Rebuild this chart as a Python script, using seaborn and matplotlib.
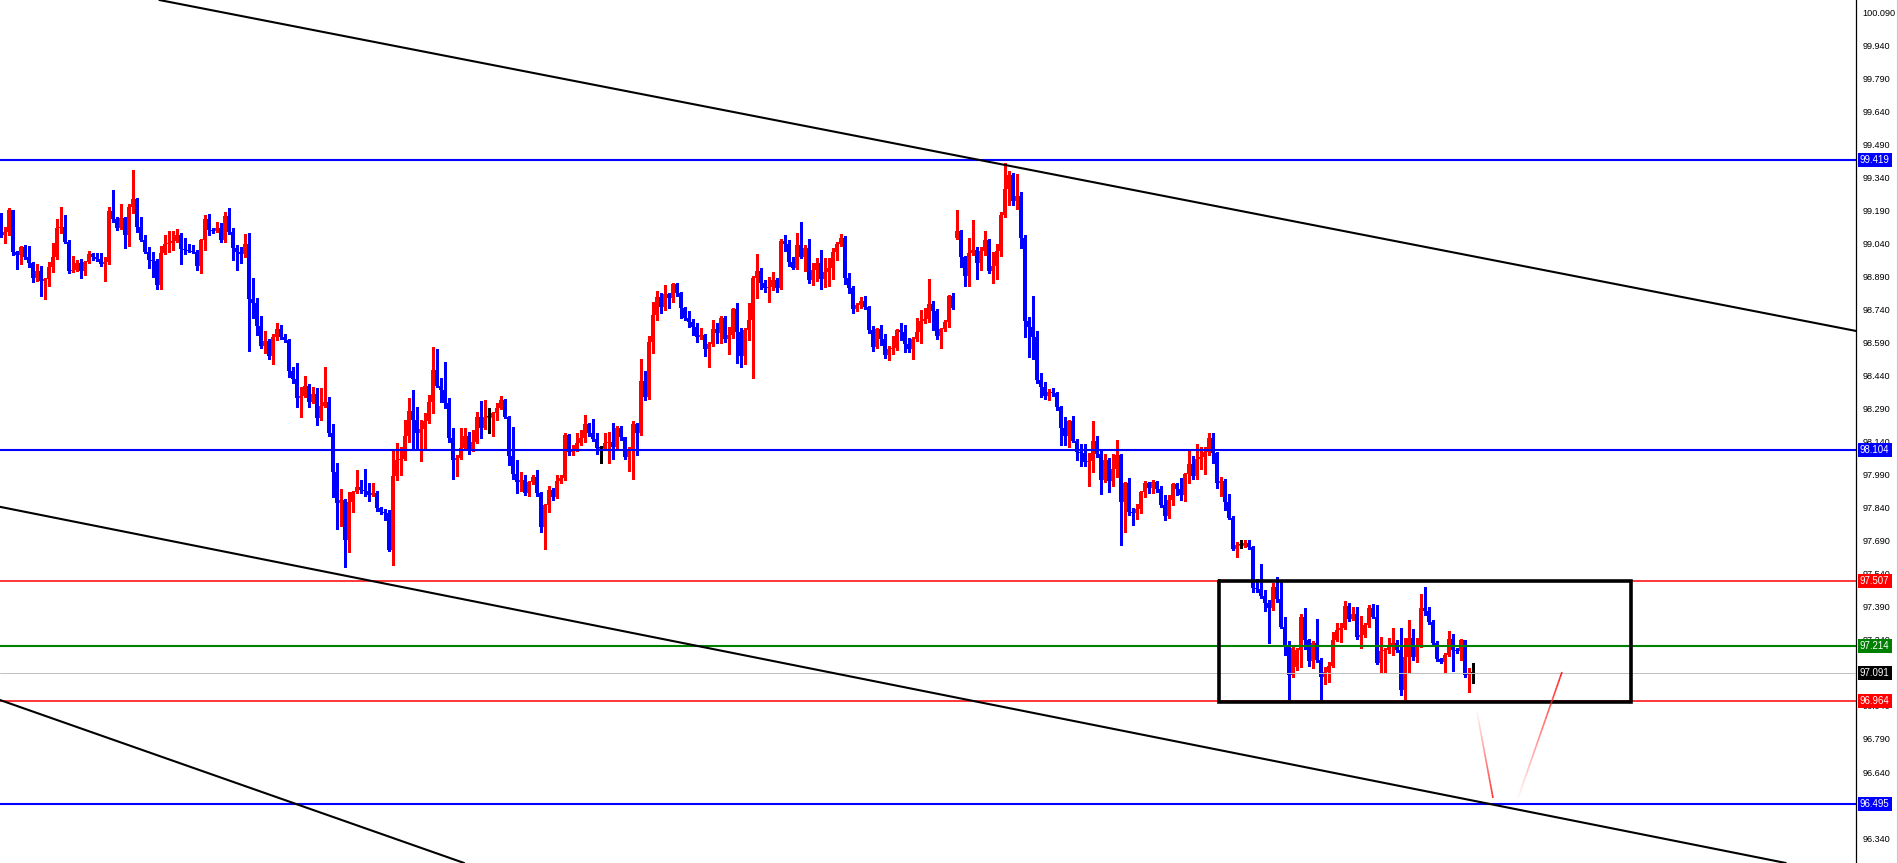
import numpy as np
import pandas as pd
import matplotlib
matplotlib.use("Agg")
import matplotlib.pyplot as plt
import seaborn as sns
from matplotlib.collections import LineCollection
from matplotlib.lines import Line2D

# ---------------------------
# 1. Candle data
# ---------------------------
closes = [
    99.079, 99.092, 99.192, 99.002, 98.988, 99.024, 98.979, 98.952, 98.884, 98.915,
    98.870, 98.879, 98.934, 98.979, 99.111, 99.115, 99.047, 98.915, 98.920, 98.952,
    98.915, 98.956, 98.993, 98.979, 98.970, 98.947, 98.956, 99.188, 99.151, 99.111,
    99.156, 99.079, 99.206, 99.242, 99.115, 99.056, 99.002, 98.965, 98.961, 98.852,
    98.997, 99.038, 99.042, 99.052, 99.079, 99.015, 99.011, 99.006, 99.002, 98.938,
    99.056, 99.151, 99.101, 99.097, 99.111, 99.056, 99.165, 99.092, 99.020, 99.002,
    98.993, 99.038, 98.788, 98.770, 98.666, 98.575, 98.597, 98.529, 98.616, 98.652,
    98.616, 98.602, 98.461, 98.425, 98.339, 98.348, 98.393, 98.320, 98.357, 98.248,
    98.302, 98.320, 98.180, 98.002, 97.862, 97.875, 97.694, 97.866, 97.912, 97.934,
    97.921, 97.916, 97.898, 97.907, 97.839, 97.821, 97.816, 97.648, 97.984, 98.057,
    98.061, 98.166, 98.280, 98.239, 98.180, 98.198, 98.234, 98.320, 98.466, 98.393,
    98.375, 98.316, 98.157, 98.057, 98.066, 98.111, 98.166, 98.102, 98.139, 98.252,
    98.202, 98.252, 98.252, 98.270, 98.293, 98.330, 98.252, 98.075, 97.993, 97.957,
    97.966, 97.907, 97.957, 97.980, 97.907, 97.753, 97.853, 97.921, 97.889, 97.962,
    97.975, 98.171, 98.093, 98.107, 98.134, 98.157, 98.220, 98.180, 98.152, 98.111,
    98.111, 98.134, 98.139, 98.116, 98.202, 98.161, 98.071, 98.098, 98.220, 98.180,
    98.416, 98.343, 98.593, 98.716, 98.797, 98.752, 98.811, 98.793, 98.856, 98.815,
    98.747, 98.702, 98.684, 98.661, 98.616, 98.625, 98.561, 98.584, 98.652, 98.634,
    98.702, 98.607, 98.625, 98.743, 98.638, 98.529, 98.647, 98.693, 98.884, 98.915,
    98.861, 98.838, 98.843, 98.874, 98.838, 99.052, 99.038, 98.956, 98.929, 99.033,
    98.979, 99.020, 98.874, 98.920, 98.952, 98.879, 98.911, 98.929, 99.002, 99.038,
    99.065, 98.884, 98.838, 98.743, 98.761, 98.779, 98.752, 98.647, 98.570, 98.652,
    98.607, 98.534, 98.561, 98.566, 98.647, 98.638, 98.584, 98.561, 98.607, 98.638,
    98.688, 98.698, 98.766, 98.734, 98.620, 98.652, 98.684, 98.802, 98.747, 99.097,
    98.979, 98.893, 98.997, 99.011, 98.952, 99.006, 99.056, 98.915, 98.938, 99.006,
    99.170, 99.288, 99.351, 99.233, 99.256, 99.065, 98.688, 98.661, 98.616, 98.420,
    98.389, 98.348, 98.366, 98.361, 98.298, 98.202, 98.166, 98.234, 98.143, 98.093,
    98.089, 98.048, 98.053, 98.143, 98.084, 97.966, 98.057, 97.962, 98.016, 98.080,
    97.866, 97.953, 97.821, 97.816, 97.834, 97.912, 97.953, 97.930, 97.957, 97.925,
    97.853, 97.803, 97.875, 97.948, 97.925, 97.898, 97.994, 98.039, 97.984, 98.061,
    98.071, 98.093, 98.157, 98.089, 97.953, 97.962, 97.866, 97.794, 97.653, 97.671,
    97.671, 97.680, 97.662, 97.476, 97.471, 97.439, 97.408, 97.385, 97.480, 97.426,
    97.299, 97.208, 97.081, 97.203, 97.194, 97.344, 97.240, 97.145, 97.226, 97.149,
    97.072, 97.094, 97.122, 97.240, 97.285, 97.294, 97.394, 97.335, 97.358, 97.253,
    97.262, 97.308, 97.385, 97.344, 97.135, 97.190, 97.194, 97.217, 97.226, 97.194,
    97.012, 97.163, 97.249, 97.163, 97.213, 97.385, 97.371, 97.321, 97.226, 97.154,
    97.140, 97.172, 97.244, 97.194, 97.190, 97.240, 97.081, 97.090, 97.091,
]

highs = [
    99.179, 99.115, 99.201, 99.192, 99.006, 99.029, 99.033, 99.029, 98.956, 98.947,
    98.938, 98.884, 98.956, 99.042, 99.151, 99.206, 99.170, 99.056, 98.983, 98.965,
    98.970, 98.961, 99.006, 98.997, 98.997, 98.997, 98.979, 99.206, 99.283, 99.160,
    99.220, 99.160, 99.220, 99.374, 99.247, 99.160, 99.079, 99.024, 99.002, 98.970,
    99.029, 99.079, 99.097, 99.097, 99.106, 99.088, 99.065, 99.038, 99.033, 99.011,
    99.061, 99.170, 99.174, 99.111, 99.138, 99.133, 99.183, 99.201, 99.111, 99.033,
    99.024, 99.083, 99.088, 98.884, 98.793, 98.711, 98.643, 98.607, 98.630, 98.679,
    98.670, 98.630, 98.607, 98.479, 98.498, 98.388, 98.439, 98.402, 98.388, 98.384,
    98.384, 98.479, 98.343, 98.220, 98.043, 97.925, 97.880, 97.912, 97.915, 98.012,
    97.966, 98.016, 97.953, 97.953, 97.916, 97.844, 97.834, 97.830, 98.098, 98.134,
    98.116, 98.239, 98.339, 98.375, 98.298, 98.239, 98.270, 98.352, 98.570, 98.561,
    98.429, 98.502, 98.339, 98.202, 98.080, 98.202, 98.202, 98.184, 98.193, 98.275,
    98.325, 98.330, 98.293, 98.275, 98.316, 98.348, 98.334, 98.257, 98.207, 98.057,
    98.002, 97.989, 97.960, 97.989, 98.012, 97.912, 97.856, 97.939, 97.930, 97.989,
    97.989, 98.180, 98.175, 98.125, 98.180, 98.193, 98.261, 98.225, 98.243, 98.180,
    98.120, 98.180, 98.184, 98.225, 98.211, 98.211, 98.161, 98.116, 98.234, 98.224,
    98.516, 98.461, 98.620, 98.775, 98.825, 98.815, 98.852, 98.815, 98.861, 98.861,
    98.820, 98.751, 98.734, 98.698, 98.679, 98.657, 98.629, 98.593, 98.693, 98.679,
    98.711, 98.711, 98.661, 98.747, 98.770, 98.657, 98.657, 98.770, 98.893, 98.993,
    98.929, 98.874, 98.888, 98.911, 98.884, 99.061, 99.079, 99.056, 98.979, 99.088,
    99.138, 99.033, 99.061, 98.952, 98.974, 99.011, 98.974, 98.974, 99.020, 99.047,
    99.083, 99.074, 98.906, 98.847, 98.770, 98.797, 98.802, 98.756, 98.666, 98.655,
    98.670, 98.630, 98.575, 98.620, 98.650, 98.679, 98.670, 98.611, 98.616, 98.702,
    98.738, 98.747, 98.879, 98.779, 98.743, 98.657, 98.693, 98.806, 98.815, 99.192,
    99.101, 98.983, 99.065, 99.147, 99.024, 99.024, 99.097, 99.060, 99.002, 99.038,
    99.183, 99.406, 99.369, 99.360, 99.356, 99.274, 99.079, 98.707, 98.802, 98.643,
    98.452, 98.411, 98.380, 98.384, 98.366, 98.302, 98.252, 98.237, 98.257, 98.152,
    98.130, 98.130, 98.089, 98.234, 98.166, 98.098, 98.084, 98.066, 98.084, 98.148,
    98.085, 97.956, 97.975, 97.839, 97.857, 97.916, 97.962, 97.957, 97.966, 97.962,
    97.939, 97.898, 97.898, 97.953, 97.952, 97.975, 97.998, 98.098, 98.075, 98.130,
    98.116, 98.116, 98.180, 98.180, 98.093, 97.980, 97.971, 97.903, 97.803, 97.685,
    97.694, 97.694, 97.694, 97.666, 97.517, 97.585, 97.467, 97.421, 97.499, 97.526,
    97.512, 97.344, 97.235, 97.213, 97.203, 97.358, 97.385, 97.244, 97.235, 97.335,
    97.158, 97.117, 97.140, 97.276, 97.317, 97.317, 97.417, 97.408, 97.390, 97.390,
    97.349, 97.317, 97.399, 97.403, 97.399, 97.253, 97.203, 97.249, 97.294, 97.240,
    97.294, 97.249, 97.330, 97.290, 97.249, 97.449, 97.480, 97.390, 97.330, 97.235,
    97.158, 97.181, 97.281, 97.267, 97.203, 97.244, 97.231, 97.113, 97.135,
]

lows = [
    99.070, 99.042, 99.079, 98.988, 98.924, 98.947, 98.970, 98.934, 98.865, 98.870,
    98.802, 98.788, 98.847, 98.911, 98.970, 99.088, 99.042, 98.906, 98.911, 98.915,
    98.884, 98.897, 98.952, 98.965, 98.961, 98.938, 98.870, 98.947, 99.138, 99.101,
    99.106, 99.020, 99.029, 99.179, 99.092, 99.052, 98.997, 98.929, 98.888, 98.834,
    98.834, 98.993, 99.002, 99.011, 99.047, 98.947, 98.993, 99.002, 98.997, 98.920,
    98.906, 99.011, 99.079, 99.088, 99.092, 99.047, 99.047, 99.083, 98.965, 98.920,
    98.952, 98.979, 98.552, 98.702, 98.625, 98.566, 98.543, 98.516, 98.493, 98.602,
    98.607, 98.593, 98.434, 98.407, 98.298, 98.252, 98.343, 98.298, 98.316, 98.216,
    98.239, 98.298, 98.166, 97.889, 97.743, 97.757, 97.571, 97.639, 97.821, 97.908,
    97.907, 97.893, 97.871, 97.893, 97.825, 97.812, 97.785, 97.644, 97.580, 97.966,
    97.989, 98.057, 98.139, 98.111, 98.111, 98.053, 98.111, 98.225, 98.270, 98.389,
    98.320, 98.293, 98.139, 97.971, 97.984, 98.061, 98.102, 98.084, 98.098, 98.134,
    98.157, 98.198, 98.180, 98.166, 98.239, 98.289, 98.248, 98.034, 97.971, 97.907,
    97.916, 97.898, 97.893, 97.948, 97.893, 97.730, 97.653, 97.821, 97.875, 97.884,
    97.953, 97.966, 98.080, 98.080, 98.098, 98.125, 98.139, 98.166, 98.143, 98.084,
    98.043, 98.107, 98.043, 98.061, 98.102, 98.148, 98.061, 98.007, 97.971, 98.080,
    98.171, 98.330, 98.334, 98.543, 98.693, 98.725, 98.738, 98.747, 98.775, 98.802,
    98.702, 98.693, 98.661, 98.625, 98.593, 98.607, 98.530, 98.479, 98.575, 98.589,
    98.589, 98.593, 98.539, 98.611, 98.498, 98.479, 98.493, 98.602, 98.430, 98.793,
    98.834, 98.820, 98.775, 98.829, 98.820, 98.834, 99.006, 98.938, 98.925, 98.924,
    98.974, 98.915, 98.861, 98.852, 98.870, 98.834, 98.843, 98.847, 98.879, 98.965,
    99.029, 98.856, 98.815, 98.725, 98.734, 98.747, 98.743, 98.634, 98.552, 98.566,
    98.579, 98.520, 98.511, 98.539, 98.557, 98.602, 98.548, 98.548, 98.516, 98.597,
    98.589, 98.679, 98.684, 98.647, 98.607, 98.566, 98.643, 98.661, 98.743, 99.060,
    98.934, 98.847, 98.847, 98.988, 98.879, 98.920, 98.988, 98.906, 98.861, 98.879,
    98.983, 99.160, 99.215, 99.215, 99.197, 99.020, 98.616, 98.525, 98.516, 98.407,
    98.343, 98.334, 98.330, 98.348, 98.284, 98.125, 98.125, 98.116, 98.139, 98.057,
    98.030, 98.030, 97.939, 98.002, 98.071, 97.903, 97.957, 97.912, 97.939, 97.980,
    97.671, 97.730, 97.807, 97.762, 97.789, 97.816, 97.889, 97.907, 97.907, 97.912,
    97.844, 97.785, 97.794, 97.853, 97.898, 97.875, 97.871, 97.953, 97.971, 97.971,
    98.016, 97.994, 98.080, 98.043, 97.930, 97.893, 97.830, 97.789, 97.648, 97.617,
    97.657, 97.662, 97.653, 97.458, 97.458, 97.430, 97.371, 97.226, 97.376, 97.412,
    97.294, 97.172, 96.967, 97.071, 97.103, 97.117, 97.199, 97.122, 97.113, 97.140,
    96.967, 97.040, 97.049, 97.117, 97.235, 97.231, 97.290, 97.326, 97.330, 97.244,
    97.203, 97.253, 97.299, 97.340, 97.131, 97.094, 97.094, 97.181, 97.172, 97.185,
    96.990, 96.967, 97.094, 97.149, 97.140, 97.208, 97.353, 97.312, 97.217, 97.145,
    97.135, 97.090, 97.167, 97.099, 97.181, 97.149, 97.072, 97.003, 97.044,
]

# opens follow the previous close, except these bars (first bar, gaps, last doji)
open_fix = {0: 99.170, 239: 99.065, 324: 97.117, 368: 97.091}

# horizontal levels with their price tags
level_prices = [99.419, 98.104, 97.507, 97.214, 97.091, 96.964, 96.495]
level_colors = ['#0000ff', '#0000ff', '#ff0000', '#008000', '#c0c0c0', '#ff0000', '#0000ff']
tag_colors = ['#0000ff', '#0000ff', '#ff0000', '#008000', '#000000', '#ff0000', '#0000ff']
level_widths = [1.5, 1.5, 1.1, 1.5, 0.7, 1.1, 1.5]

# trend lines: two anchor points each (bar index, price)
trend_lines = [
    ((244.75, 99.419), (463.75, 98.643)),
    ((54.75, 97.645), (359.75, 96.540)),
    ((-0.25, 96.967), (115.75, 96.227)),
]

# consolidation box (bar index range, price range)
box_x = [304.5, 407.5]
box_y = [96.958, 97.507]

# red projection strokes: (start, end), alpha goes from first to last
arrow_legs = [
    ((369.0, 96.913), (373.0, 96.522), 0.05, 0.95),
    ((379.25, 96.522), (390.25, 97.094), 0.05, 1.0),
]

tick_labels = ['96.340', '96.490', '96.640', '96.790', '96.940', '97.090', '97.240',
               '97.390', '97.540', '97.690', '97.840', '97.990', '98.140', '98.290',
               '98.440', '98.590', '98.740', '98.890', '99.040', '99.190', '99.340',
               '99.490', '99.640', '99.790', '99.940', '100.090']

# ---------------------------
# 2. Prepare OHLC
# ---------------------------
df = pd.DataFrame({'close': closes, 'high': highs, 'low': lows})
df['open'] = df['close'].shift(1)
for k, v in open_fix.items():
    df.loc[k, 'open'] = v
x = np.arange(len(df))
o = df['open'].values
c = df['close'].values
body_lo = np.minimum(o, c)
body_hi = np.maximum(o, c)
wick_lo = np.minimum(df['low'].values, body_lo)
wick_hi = np.maximum(df['high'].values, body_hi)
colors = np.where(c > o, '#ff0000', np.where(c < o, '#0000ff', '#000000'))

# ---------------------------
# 3. Plot
# ---------------------------
sns.set_style('white')
plt.rcParams['font.family'] = ['Liberation Sans', 'DejaVu Sans']

W, H = 1898, 863
fig = plt.figure(figsize=(W / 100, H / 100), dpi=100)
ax = fig.add_axes([0, 0, 1856 / W, 1])

ax.vlines(x, wick_lo, wick_hi, colors=colors, linewidth=0.9, antialiased=False, zorder=2)
ax.bar(x, np.maximum(body_hi - body_lo, 0.0045), bottom=body_lo, width=0.76,
       color=colors, linewidth=0, antialiased=False, zorder=2)
doji = c == o
ax.hlines(c[doji], x[doji] - 0.4, x[doji] + 0.4, colors='#000000', linewidth=0.9, zorder=2)

for p, col, lw in zip(level_prices, level_colors, level_widths):
    ax.axhline(p, color=col, linewidth=lw, zorder=3)

for p1, p2 in trend_lines:
    ax.axline(p1, p2, color='black', linewidth=1.5, zorder=3)

ax.plot([box_x[0], box_x[1], box_x[1], box_x[0], box_x[0]],
        [box_y[1], box_y[1], box_y[0], box_y[0], box_y[1]],
        color='black', linewidth=2.6, solid_joinstyle='miter', zorder=4)

for (x0, y0), (x1, y1), a0, a1 in arrow_legs:
    t = np.linspace(0, 1, 25)
    xs = x0 + (x1 - x0) * t
    ys = y0 + (y1 - y0) * t
    segs = np.stack([np.column_stack([xs[:-1], ys[:-1]]),
                     np.column_stack([xs[1:], ys[1:]])], axis=1)
    alphas = np.linspace(a0, a1, len(segs))
    rgba = np.zeros((len(segs), 4))
    rgba[:, 0] = 1.0
    rgba[:, 1] = 0.15
    rgba[:, 2] = 0.15
    rgba[:, 3] = alphas
    ax.add_collection(LineCollection(segs, colors=rgba, linewidth=1.2, zorder=4))

ax.set_xlim(-0.25, 463.75)
ax.set_ylim(96.2268, 100.146)

ticks = [float(t) for t in tick_labels]
ax.set_yticks(ticks)
ax.set_yticklabels(tick_labels)
ax.yaxis.tick_right()
ax.tick_params(axis='y', direction='out', length=3, width=0.8, pad=1.5,
               labelsize=6.6, colors='black')
ax.set_xticks([])
sns.despine(ax=ax, left=True, bottom=True, top=True, right=False)
ax.spines['right'].set_color('black')
ax.spines['right'].set_linewidth(0.9)

for p, col in zip(level_prices, tag_colors):
    ax.text(1.0 + 4 / 1856, p, f'{p:.3f}', transform=ax.get_yaxis_transform(),
            ha='left', va='center', fontsize=6.9, color='white', zorder=10,
            clip_on=False,
            bbox=dict(boxstyle='square,pad=0.22', facecolor=col, edgecolor='none'))

fig.add_artist(Line2D([0.9994, 0.9994], [0, 1], color='#c8c8c8', linewidth=0.8,
                      transform=fig.transFigure))

fig.savefig('out.png', dpi=100, facecolor='white')
